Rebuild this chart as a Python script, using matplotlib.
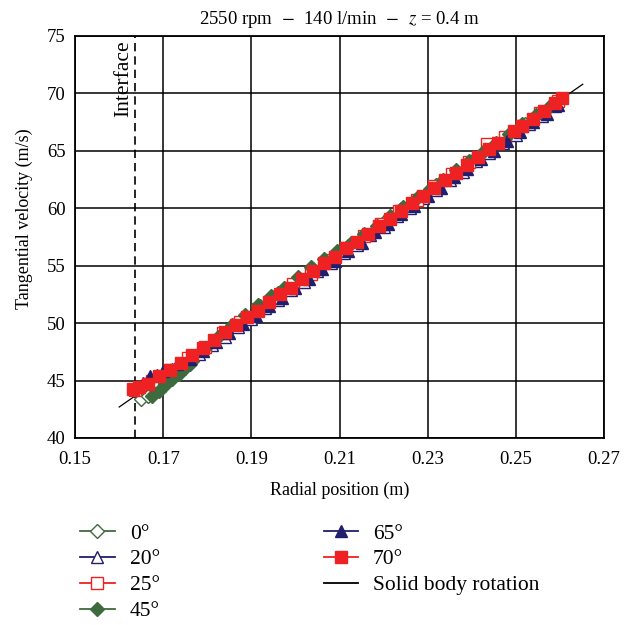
import matplotlib
matplotlib.use("Agg")
import matplotlib.pyplot as plt
from matplotlib.lines import Line2D

plt.rcParams['font.family'] = ['Liberation Serif', 'DejaVu Serif']
plt.rcParams['mathtext.fontset'] = 'stix'

# 0 deg (open green diamonds)
r_0 = [0.1650, 0.1665, 0.1690, 0.1720, 0.1760, 0.1800, 0.1840, 0.1880, 0.1920, 0.1960,
       0.2000, 0.2040, 0.2080, 0.2120, 0.2160, 0.2200, 0.2240, 0.2280, 0.2320, 0.2360,
       0.2400, 0.2440, 0.2480, 0.2520, 0.2560, 0.2590]
v_0 = [43.4, 43.7, 44.3, 45.2, 46.4, 47.8, 49.1, 50.3, 51.5, 52.6,
       53.6, 54.7, 55.6, 56.7, 57.7, 58.8, 59.9, 60.9, 62.0, 63.0,
       64.1, 65.2, 66.2, 67.3, 68.4, 69.2]

# 20 deg (open navy triangles)
r_20 = [0.1660, 0.1690, 0.1720, 0.1750, 0.1780, 0.1810, 0.1840, 0.1870, 0.1900, 0.1930,
        0.1960, 0.1990, 0.2020, 0.2050, 0.2080, 0.2110, 0.2140, 0.2170, 0.2200, 0.2230,
        0.2260, 0.2290, 0.2320, 0.2350, 0.2380, 0.2410, 0.2440, 0.2470, 0.2500, 0.2530,
        0.2560, 0.2590]
v_20 = [44.8, 45.4, 46.0, 46.6, 47.3, 48.1, 48.8, 49.7, 50.4, 51.3,
        52.0, 52.9, 53.6, 54.5, 55.2, 56.1, 56.8, 57.7, 58.4, 59.3,
        60.0, 60.9, 61.6, 62.5, 63.2, 64.1, 64.8, 65.7, 66.4, 67.3,
        68.0, 68.9]

# 25 deg (open red squares)
r_25 = [0.1635, 0.1675, 0.1715, 0.1755, 0.1795, 0.1835, 0.1875, 0.1915, 0.1955, 0.1995,
        0.2035, 0.2075, 0.2115, 0.2155, 0.2195, 0.2235, 0.2275, 0.2315, 0.2355, 0.2395,
        0.2435, 0.2475, 0.2515, 0.2555, 0.2595]
v_25 = [44.2, 45.0, 45.9, 47.0, 47.9, 49.1, 50.1, 51.2, 52.2, 53.4,
        54.3, 55.5, 56.5, 57.6, 58.6, 59.8, 60.7, 61.9, 63.0, 64.0,
        65.6, 66.2, 67.2, 68.3, 69.3]

# 45 deg (filled green diamonds)
r_45 = [0.1675, 0.1690, 0.1705, 0.1720, 0.1735, 0.1750, 0.1765, 0.1795, 0.1825, 0.1855,
        0.1885, 0.1915, 0.1945, 0.1975, 0.2005, 0.2035, 0.2065, 0.2095, 0.2125, 0.2155,
        0.2185, 0.2215, 0.2245, 0.2275, 0.2305, 0.2335, 0.2365, 0.2395, 0.2425, 0.2455,
        0.2485, 0.2515, 0.2545, 0.2575]
v_45 = [43.7, 44.1, 44.6, 45.1, 45.6, 46.1, 46.7, 47.8, 48.8, 49.8,
        50.7, 51.6, 52.4, 53.1, 54.0, 54.9, 55.6, 56.3, 57.0, 57.8,
        58.5, 59.3, 60.1, 60.9, 61.7, 62.5, 63.3, 64.1, 64.9, 65.7,
        66.5, 67.3, 68.1, 68.8]

# 65 deg (filled navy triangles)
r_65 = [0.1655, 0.1670, 0.1685, 0.1700, 0.1730, 0.1760, 0.1790, 0.1820, 0.1850, 0.1880,
        0.1910, 0.1940, 0.1970, 0.2000, 0.2030, 0.2060, 0.2090, 0.2120, 0.2150, 0.2180,
        0.2210, 0.2240, 0.2270, 0.2300, 0.2330, 0.2360, 0.2390, 0.2420, 0.2450, 0.2480,
        0.2510, 0.2540, 0.2570, 0.2595]
v_65 = [44.8, 45.4, 45.5, 45.8, 46.4, 46.9, 47.6, 48.4, 49.1, 49.9,
        50.6, 51.5, 52.2, 53.1, 53.8, 54.7, 55.4, 56.3, 57.0, 57.9,
        58.6, 59.5, 60.2, 61.1, 61.8, 62.7, 63.4, 64.3, 65.0, 65.9,
        66.6, 67.5, 68.2, 69.0]

# 70 deg (filled red squares)
r_70 = [0.1632, 0.1645, 0.1665, 0.1690, 0.1715, 0.1740, 0.1765, 0.1790, 0.1815, 0.1840,
        0.1865, 0.1890, 0.1915, 0.1940, 0.1965, 0.1990, 0.2015, 0.2040, 0.2065, 0.2090,
        0.2115, 0.2140, 0.2165, 0.2190, 0.2215, 0.2240, 0.2265, 0.2290, 0.2315, 0.2340,
        0.2365, 0.2390, 0.2415, 0.2440, 0.2460, 0.2495, 0.2515, 0.2540, 0.2565, 0.2590,
        0.2605]
v_70 = [44.3, 44.4, 44.7, 45.4, 45.9, 46.5, 47.2, 47.8, 48.5, 49.2,
        49.8, 50.5, 51.1, 51.8, 52.5, 53.1, 53.8, 54.5, 55.2, 55.8,
        56.5, 57.1, 57.8, 58.5, 59.1, 59.8, 60.5, 61.1, 61.8, 62.5,
        63.1, 63.8, 64.5, 65.2, 65.7, 66.7, 67.2, 67.8, 68.5, 69.2,
        69.6]

# solid body rotation line (end points)
r_sbr = [0.1600, 0.2652]
v_sbr = [42.7, 70.8]
r_interface = 0.1635

GREEN = '#3e6b3e'
NAVY = '#1f1f6e'
RED = '#ee2222'

fig = plt.figure(figsize=(6.37, 6.25), dpi=100)
ax = fig.add_axes([0.118, 0.2992, 0.830, 0.6432])

ax.plot(r_sbr, v_sbr, color='black', lw=0.9, zorder=2)
ax.axvline(r_interface, color='black', ls=(0, (5, 3)), lw=1.2, zorder=2)

ms = 9
ax.plot(r_0, v_0, ls='none', marker='D', ms=ms * 0.75, mfc='white', mec=GREEN, mew=1.0, zorder=3)
ax.plot(r_20, v_20, ls='none', marker='^', ms=ms, mfc='white', mec=NAVY, mew=1.0, zorder=3)
ax.plot(r_25, v_25, ls='none', marker='s', ms=ms, mfc='white', mec=RED, mew=1.0, zorder=3)
ax.plot(r_45, v_45, ls='none', marker='D', ms=ms * 0.75, color=GREEN, zorder=4)
ax.plot(r_65, v_65, ls='none', marker='^', ms=ms, color=NAVY, zorder=5)
ax.plot(r_70, v_70, ls='none', marker='s', ms=ms, color=RED, zorder=6)

ax.text(0.1609, 74.6, 'Interface', rotation=90, ha='center', va='top', fontsize=15.5)

ax.set_xlim(0.15, 0.27)
ax.set_ylim(40, 75)
ax.set_xticks([0.15, 0.17, 0.19, 0.21, 0.23, 0.25, 0.27])
ax.set_xticklabels(['0.15', '0.17', '0.19', '0.21', '0.23', '0.25', '0.27'])
ax.set_yticks(range(40, 76, 5))
ax.grid(True, color='black', lw=1.1)
ax.set_axisbelow(True)
ax.tick_params(length=0, labelsize=13.5)
ax.tick_params(axis='x', pad=9)
ax.tick_params(axis='y', pad=7)
for s in ax.spines.values():
    s.set_linewidth(1.3)

ax.set_xlabel('Radial position (m)', fontsize=13, labelpad=10)
ax.set_ylabel('Tangential velocity (m/s)', fontsize=13)
ax.yaxis.set_label_coords(-0.080, 0.545)
ax.set_title(r'2550 rpm $\,-\,$ 140 l/min $\,-\,$ $z$ = 0.4 m', fontsize=13.5, pad=9)

handles = [
    Line2D([], [], color=GREEN, marker='D', ms=7, mfc='white', mec=GREEN, lw=1.3),
    Line2D([], [], color=NAVY, marker='^', ms=8.5, mfc='white', mec=NAVY, lw=1.3),
    Line2D([], [], color=RED, marker='s', ms=8.5, mfc='white', mec=RED, lw=1.3),
    Line2D([], [], color=GREEN, marker='D', ms=7, lw=1.3),
    Line2D([], [], color=NAVY, marker='^', ms=8.5, lw=1.3),
    Line2D([], [], color=RED, marker='s', ms=8.5, lw=1.3),
    Line2D([], [], color='black', lw=1.3),
]
labels = ['0°', '20°', '25°', '45°', '65°', '70°', 'Solid body rotation']
fig.legend(handles, labels, loc='upper left', bbox_to_anchor=(0.126, 0.1625), ncol=2,
           frameon=False, fontsize=15.5, handlelength=1.6, handletextpad=0.7,
           columnspacing=7.6, labelspacing=0.27, borderaxespad=0, borderpad=0)

fig.savefig('out.png', dpi=100)
